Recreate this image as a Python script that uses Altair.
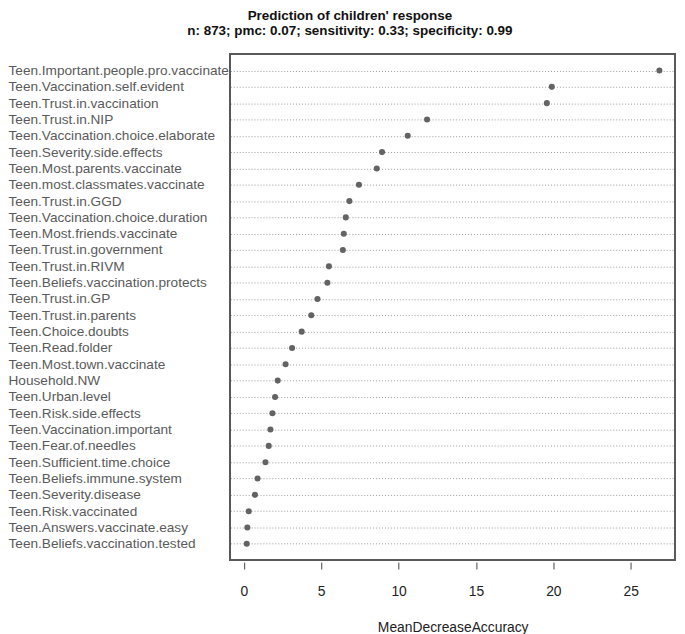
import altair as alt
import pandas as pd

variables = [
    "Teen.Important.people.pro.vaccinate",
    "Teen.Vaccination.self.evident",
    "Teen.Trust.in.vaccination",
    "Teen.Trust.in.NIP",
    "Teen.Vaccination.choice.elaborate",
    "Teen.Severity.side.effects",
    "Teen.Most.parents.vaccinate",
    "Teen.most.classmates.vaccinate",
    "Teen.Trust.in.GGD",
    "Teen.Vaccination.choice.duration",
    "Teen.Most.friends.vaccinate",
    "Teen.Trust.in.government",
    "Teen.Trust.in.RIVM",
    "Teen.Beliefs.vaccination.protects",
    "Teen.Trust.in.GP",
    "Teen.Trust.in.parents",
    "Teen.Choice.doubts",
    "Teen.Read.folder",
    "Teen.Most.town.vaccinate",
    "Household.NW",
    "Teen.Urban.level",
    "Teen.Risk.side.effects",
    "Teen.Vaccination.important",
    "Teen.Fear.of.needles",
    "Teen.Sufficient.time.choice",
    "Teen.Beliefs.immune.system",
    "Teen.Severity.disease",
    "Teen.Risk.vaccinated",
    "Teen.Answers.vaccinate.easy",
    "Teen.Beliefs.vaccination.tested",
]
mean_decrease_accuracy = [
    26.85, 19.90, 19.58, 11.84, 10.59, 8.93, 8.59, 7.44, 6.82, 6.59,
    6.46, 6.40, 5.50, 5.40, 4.76, 4.36, 3.74, 3.12, 2.70, 2.19,
    2.02, 1.85, 1.72, 1.61, 1.40, 0.89, 0.72, 0.32, 0.23, 0.19,
]
x_ticks = [0, 5, 10, 15, 20, 25]

df = pd.DataFrame({"variable": variables, "value": mean_decrease_accuracy})

FONT = "Liberation Sans"

points = alt.Chart(df).mark_point(
    filled=True, shape="circle", size=38, color="#636363", opacity=1
).encode(
    x=alt.X(
        "value:Q",
        title="MeanDecreaseAccuracy",
        scale=alt.Scale(domain=[-0.87, 27.86], nice=False, zero=False),
        axis=alt.Axis(
            values=x_ticks,
            grid=False,
            domain=False,
            offset=2,
            tickSize=7,
            tickColor="#444444",
            tickWidth=1,
            labelFont=FONT,
            labelFontSize=14,
            labelColor="#222222",
            labelPadding=16,
            titleFont=FONT,
            titleFontSize=14,
            titleFontWeight="normal",
            titleColor="#222222",
            titlePadding=22,
        ),
    ),
    y=alt.Y(
        "variable:N",
        sort=None,
        title=None,
        scale=alt.Scale(padding=1),
        axis=alt.Axis(
            domain=False,
            ticks=False,
            tickSize=0,
            grid=True,
            gridColor="#999999",
            gridDash=[1, 2],
            gridWidth=1,
            labelAlign="left",
            labelPadding=225,
            labelFont=FONT,
            labelFontSize=13.8,
            labelColor="#5a5a5a",
            labelLimit=0,
        ),
    ),
)

frame = alt.Chart(df).mark_rect(
    fill=None, stroke="#5a5a5a", strokeWidth=1.3
).encode(
    x=alt.value(0),
    x2=alt.value("width"),
    y=alt.value(0),
    y2=alt.value("height"),
)

chart = alt.layer(points, frame).properties(
    width=450,
    height=512,
    padding={"left": 225, "top": 43, "right": 2, "bottom": 71},
    autosize=alt.AutoSizeParams(type="none"),
    title=alt.TitleParams(
        text=["Prediction of children' response",
              "n: 873; pmc: 0.07; sensitivity: 0.33; specificity: 0.99"],
        font=FONT,
        fontSize=13.6,
        fontWeight="bold",
        color="#111111",
        anchor="middle",
        frame="group",
        dx=-104,
        offset=16.5,
        lineHeight=15,
    ),
).configure_view(
    stroke=None,
)

chart.save("out.html", embed_options={"renderer": "svg", "actions": False})
